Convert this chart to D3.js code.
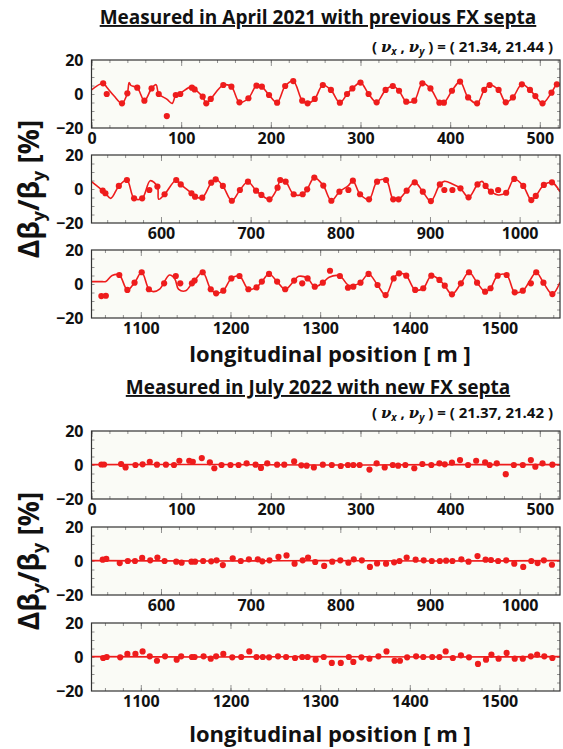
<!DOCTYPE html>
<html>
<head>
<meta charset="utf-8">
<script src="https://cdn.jsdelivr.net/npm/d3@7"></script>
<style>
body { margin: 0; background: #fff; }
text { font-family: "Open Sans", "Noto Sans", sans-serif; font-weight: bold; fill: #111; }
</style>
</head>
<body>
<script>
// titles and tunes
var titles = ["Measured in April 2021 with previous FX septa", "Measured in July 2022 with new FX septa"];
var tunes = [["21.34", "21.44"], ["21.37", "21.42"]];

// each row shows one third of the ring
var sections = [[0, 522.5], [522.5, 1045], [1045, 1567.5]];
var xTickLabels = [[0, 100, 200, 300, 400, 500], [600, 700, 800, 900, 1000], [1100, 1200, 1300, 1400, 1500]];
var yTickLabels = [-20, 0, 20];

// April 2021 measured points [s (m), dBeta/Beta (%)]
var april1Dots = [[13,6.3],[17,0],[34,-5.5],[40,0.4],[51,3.7],[59,-3.9],[67,3.3],[75,0],[84,-13],[94,-0.6],[99,0],[112,3.7],[115,2.7],[124,-1.6],[128,-5.5],[133,-2.9],[147,5.3],[156,4.3],[165,-4.9],[175,-2.5],[184,4.9],[190,4.3],[198,-0.6],[207,-5.1],[216,4.7],[225,7.6],[235,-3.9],[241,-5.5],[249,-2.9],[258,5.3],[267,2.4],[277,-5.1],[285,0],[291,3.3],[300,6.7],[309,0],[318,-4.9],[328,2.4],[336,4.7],[343,1.9],[351,-4.5],[360,-3.9],[369,6.3],[378,3.3],[388,-5.1],[393,-5.1],[402,1.9],[411,7.3],[420,-2],[430,-5.5],[438,2.4],[444,5.3],[454,2.4],[462,-4.9],[470,-2],[480,5.7],[489,2.4],[495,-1.2],[503,-5.5],[513,0.8],[519,5.7]];
var april2Dots = [[535,-1],[538,-2.5],[553,1.8],[562,5.3],[570,-5.5],[579,-5.5],[587,-0.6],[596,1.4],[604,-3.1],[617,5.3],[622,2.7],[634,-2.5],[638,-4.5],[646,-5.1],[656,3.7],[661,5.7],[669,1.8],[679,-6.9],[688,-0.6],[697,4.3],[706,-1],[712,-3.5],[721,-6.1],[730,0.8],[733,5.3],[739,4.3],[748,-3.1],[758,-3.1],[763,-0.2],[771,6.7],[781,2],[790,-6.9],[799,-1.6],[809,-0.6],[814,4.9],[822,-3.1],[832,-6.1],[841,4.3],[851,5.3],[859,-6.1],[865,-6.1],[874,-1],[883,3.9],[892,-1.6],[901,-7.1],[911,2.7],[916,-0.6],[925,-0.6],[934,0.4],[943,-4.9],[953,2.7],[962,1.8],[968,-1.6],[976,-0.6],[985,-2.2],[994,5.9],[1004,1.8],[1013,-6.5],[1018,-4.1],[1027,2.4],[1036,3.9]];
var april3Dots = [[1056,-7.1],[1061,-6.9],[1076,5.3],[1085,-3.5],[1093,0.8],[1101,6.9],[1109,-3.1],[1126,0.4],[1139,4.7],[1144,0.4],[1157,0.4],[1160,2],[1169,6.9],[1178,-3.1],[1184,-5.5],[1192,-3.9],[1201,3.3],[1210,4.7],[1220,-3.1],[1229,-2],[1235,1.4],[1243,5.9],[1252,1.4],[1261,-3.1],[1271,2],[1280,0.4],[1286,3.3],[1294,-1.6],[1303,0.8],[1311,7.8],[1322,4.7],[1331,-2.2],[1337,-1.6],[1345,0.8],[1354,5.9],[1364,-0.6],[1373,-6.5],[1382,3.3],[1388,6.3],[1396,4.9],[1406,-3.5],[1415,-2.5],[1424,4.9],[1433,2.4],[1439,-1],[1447,-6.1],[1457,0.4],[1466,6.9],[1475,0.8],[1484,-4.5],[1490,-2.5],[1498,4.9],[1508,5.3],[1517,-4.9],[1526,-3.9],[1535,0.4],[1541,6.9],[1549,0.8],[1559,-5.9]];

// April 2021 model curve, read at its turning points
var april1Model = [[0,2.4],[13,6.3],[17,4],[25,-1],[34,-5.5],[40,0.4],[42,6.7],[44,5],[51,3.7],[59,-3.9],[67,3.3],[72,5.5],[75,0],[84,-3],[90,-5.5],[94,-0.6],[99,0.5],[112,4.5],[115,3],[124,-1.6],[128,-5.5],[133,-2.9],[147,5.3],[156,4.3],[165,-4.9],[175,-2.5],[184,4.9],[190,4.3],[198,-0.6],[207,-5.1],[216,4.7],[225,7.6],[235,-3.9],[241,-5.5],[249,-2.9],[258,5.3],[267,2.4],[277,-5.1],[285,0],[291,3.3],[300,6.7],[309,0],[318,-4.9],[328,2.4],[336,4.7],[343,1.9],[351,-4.5],[360,-3.9],[369,6.3],[378,3.3],[388,-5.1],[393,-5.1],[402,1.9],[411,7.3],[420,-2],[430,-5.5],[438,2.4],[444,5.3],[454,2.4],[462,-4.9],[470,-2],[480,5.7],[489,2.4],[495,-1.2],[503,-5.5],[513,0.8],[519,5.7],[522.5,5.5]];
var april2Model = [[522.5,4.3],[535,-1],[538,-2.5],[544,-5.5],[553,1.8],[562,5.3],[570,-5.5],[579,-5.5],[588,4.9],[596,1.4],[597.5,-6],[604,-3.1],[617,5.3],[622,2.7],[634,-2.5],[638,-4.5],[646,-5.1],[656,3.7],[661,5.7],[669,1.8],[679,-6.9],[688,-0.6],[697,4.3],[706,-1],[712,-3.5],[721,-6.1],[730,0.8],[733,5.3],[739,4.3],[748,-3.1],[758,-3.1],[763,-0.2],[771,6.7],[781,2],[790,-6.9],[799,-1.6],[809,2],[814,4.9],[822,-3.1],[832,-6.1],[841,4.3],[851,5.3],[859,-6.1],[865,-6.1],[874,-1],[883,3.9],[892,-1.6],[901,-7.1],[911,2.7],[916,4.5],[925,3],[934,0.4],[943,-4.9],[953,2.7],[958,4.5],[962,1.8],[968,-1.6],[976,-3.5],[985,-2.2],[994,5.9],[1004,1.8],[1013,-6.5],[1018,-4.1],[1027,2.4],[1036,3.9],[1045,-1.6]];
var april3Model = [[1045,1.4],[1057,1.4],[1061,1.5],[1068,5],[1076,5.3],[1085,-3.5],[1093,0.8],[1101,6.9],[1109,-3.1],[1114,-4.5],[1121,-3],[1132,5.3],[1138,3],[1142,-3],[1150,-4],[1157,0.4],[1160,2],[1169,6.9],[1178,-3.1],[1184,-5.5],[1192,-3.9],[1201,3.3],[1210,4.7],[1220,-3.1],[1229,-2],[1235,1.4],[1243,5.9],[1252,1.4],[1261,-3.1],[1271,2],[1276,4.5],[1286,3.3],[1294,-1.6],[1303,0.8],[1310,4],[1322,4.7],[1331,-0.5],[1337,-0.8],[1345,0.8],[1354,5.9],[1364,-0.6],[1373,-6.5],[1382,3.3],[1388,6.3],[1396,4.9],[1406,-3.5],[1415,-2.5],[1424,4.9],[1433,2.4],[1439,-1],[1447,-6.1],[1457,0.4],[1466,6.9],[1475,0.8],[1484,-4.5],[1490,-2.5],[1498,4.9],[1508,5.3],[1517,-4.9],[1526,-3.9],[1535,3],[1541,6.9],[1549,0.8],[1559,-5.9],[1567.5,1]];

// July 2022 measured points
var july1Dots = [[11,0.3],[14,0.3],[33,0.6],[38,-1.4],[49,0],[57,0.4],[65,1.9],[73,0.2],[83,0.2],[92,0],[98,2.5],[109,2.5],[113,1.9],[123,4.1],[132,1.6],[137,-1.9],[145,0],[155,0],[164,0],[173,1],[183,0.2],[189,-1.7],[196,1],[207,0.2],[215,0.2],[226,2.1],[234,-0.2],[240,-0.4],[248,-1.4],[258,0.2],[268,0],[278,-0.6],[286,0],[292,0],[299,0],[310,-2.7],[318,1],[327,-1.4],[336,0],[342,-0.4],[350,0],[360,-1.9],[369,0.6],[379,0],[388,1],[394,0.4],[402,1.4],[411,2.9],[420,0],[429,2.5],[439,1.6],[444,0],[452,1],[462,-5.4],[471,0],[481,0],[490,2.9],[495,-1],[503,1],[514,0.2]];
var july2Dots = [[535,0.8],[539,1.2],[554,-1.2],[563,0],[571,0],[579,1.8],[588,0.4],[596,2],[604,0],[617,-0.4],[623,-1],[634,-0.4],[638,-0.4],[647,0],[656,-0.2],[662,0.4],[669,-2.4],[680,1.6],[689,0],[698,1],[708,1],[713,-0.2],[721,0.4],[731,2.4],[740,3.3],[749,-1.6],[758,0.4],[764,2],[772,-0.6],[782,-2.9],[791,-0.4],[800,0.4],[809,-1],[815,1],[824,0.4],[833,-3.5],[841,-1.4],[851,-1.6],[860,-0.8],[866,0],[874,2],[884,0.8],[893,0.4],[902,0],[911,0],[918,0.2],[925,0],[935,1],[943,-0.4],[953,2.9],[962,0.8],[968,0.6],[976,0],[985,0.4],[994,-1.6],[1004,-3.5],[1013,0],[1020,-1.2],[1027,0.4],[1036,-2.2]];
var july3Dots = [[1058,-0.6],[1062,0],[1077,-0.2],[1085,1.8],[1094,1.8],[1102,3.3],[1110,0.4],[1118,-2.2],[1127,0.4],[1140,-1.6],[1145,0.4],[1157,0],[1160,0],[1170,0.4],[1178,-1],[1184,0.4],[1192,1.8],[1202,-0.2],[1212,0],[1221,3.3],[1229,0],[1236,0],[1243,-0.2],[1253,0.4],[1262,0],[1272,-0.6],[1280,0],[1286,0],[1295,-1.6],[1304,0],[1313,-3.5],[1323,-3.5],[1332,0],[1337,-2.9],[1346,-0.2],[1355,-1],[1365,0.4],[1374,3.3],[1383,-2.2],[1389,-2.2],[1397,-0.2],[1407,0.4],[1415,0],[1425,0],[1433,0],[1440,3.3],[1448,-0.6],[1457,1],[1466,-0.2],[1476,-4.1],[1485,-1.6],[1491,1.4],[1499,-1],[1508,2.4],[1517,-1],[1526,-1],[1535,0.4],[1542,1.4],[1550,0.4],[1559,-0.6]];

// July 2022 model curve (almost flat)
var july1Model = [[0,0.2],[130,0.3],[260,0],[390,0.2],[522.5,0.2]];
var july2Model = [[522.5,0.2],[650,0],[780,0.2],[910,0],[1045,0.2]];
var july3Model = [[1045,0.2],[1175,0],[1305,0.2],[1435,0],[1567.5,0.2]];

var groups = [
    {dots: [april1Dots, april2Dots, april3Dots], model: [april1Model, april2Model, april3Model]},
    {dots: [july1Dots, july2Dots, july3Dots], model: [july1Model, july2Model, july3Model]}
];

var width = 563, height = 749;
var left = 91.5, right = 560, panelH = 68;
var panelTops = [[60, 155, 250], [431, 527, 623]];
var red = "#ee1c1c";

var svg = d3.select("body").append("svg")
    .attr("width", width)
    .attr("height", height);

function drawPanel(top, k, dots, model, id) {
    var x = d3.scaleLinear().domain(sections[k]).range([left, right]);
    var y = d3.scaleLinear().domain([-20, 20]).range([top + panelH, top]);

    svg.append("rect")
        .attr("x", left).attr("y", top)
        .attr("width", right - left).attr("height", panelH)
        .attr("fill", "#fafbf6");

    // inner ticks on all four sides
    var minorX = d3.range(Math.ceil(sections[k][0] / 20) * 20, sections[k][1], 20);
    var majorX = minorX.filter(function(d) { return d % 100 === 0; });
    var minorY = d3.range(-15, 20, 5);

    [[d3.axisBottom, top + panelH], [d3.axisTop, top]].forEach(function(a) {
        svg.append("g").attr("transform", "translate(0," + a[1] + ")")
            .call(a[0](x).tickValues(minorX).tickSize(-3).tickFormat(""));
        svg.append("g").attr("transform", "translate(0," + a[1] + ")")
            .call(a[0](x).tickValues(majorX).tickSize(-6).tickFormat(""));
    });
    [[d3.axisLeft, left], [d3.axisRight, right]].forEach(function(a) {
        svg.append("g").attr("transform", "translate(" + a[1] + ",0)")
            .call(a[0](y).tickValues(minorY).tickSize(-3).tickFormat(""));
    });
    svg.selectAll(".domain").remove();
    svg.selectAll(".tick line").attr("stroke", "#777").attr("stroke-width", 0.8);

    // tick labels
    svg.append("g").attr("class", "lab")
        .attr("transform", "translate(0," + (top + panelH) + ")")
        .call(d3.axisBottom(x).tickValues(xTickLabels[k]).tickSize(0).tickPadding(5).tickFormat(d3.format("d")));
    svg.append("g").attr("class", "lab")
        .attr("transform", "translate(" + left + ",0)")
        .call(d3.axisLeft(y).tickValues(yTickLabels).tickSize(0).tickPadding(8).tickFormat(d3.format("d")));
    svg.selectAll(".lab .domain").remove();
    svg.selectAll(".lab text").style("font-size", "16px").attr("fill", "#111");

    svg.append("clipPath").attr("id", id)
        .append("rect").attr("x", left).attr("y", top)
        .attr("width", right - left).attr("height", panelH);

    var line = d3.line()
        .x(function(d) { return x(d[0]); })
        .y(function(d) { return y(d[1]); })
        .curve(d3.curveCatmullRom.alpha(0.5));

    svg.append("path")
        .datum(model)
        .attr("clip-path", "url(#" + id + ")")
        .attr("fill", "none")
        .attr("stroke", red)
        .attr("stroke-width", 1.6)
        .attr("d", line);

    svg.append("g").selectAll("circle")
        .data(dots)
        .enter().append("circle")
        .attr("cx", function(d) { return x(d[0]); })
        .attr("cy", function(d) { return y(d[1]); })
        .attr("r", 3.1)
        .attr("fill", red);

    // frame
    svg.append("rect")
        .attr("x", left).attr("y", top)
        .attr("width", right - left).attr("height", panelH)
        .attr("fill", "none")
        .attr("stroke", "#333")
        .attr("stroke-width", 1.2);
}

var titleY = [24, 394], tuneY = [52, 418], axisTitleY = [362, 742];

groups.forEach(function(grp, gi) {
    panelTops[gi].forEach(function(top, k) {
        drawPanel(top, k, grp.dots[k], grp.model[k], "clip" + gi + k);
    });

    svg.append("text")
        .attr("x", 318).attr("y", titleY[gi])
        .attr("text-anchor", "middle")
        .style("font-size", "19px")
        .style("text-decoration", "underline")
        .text(titles[gi]);

    var tune = svg.append("text")
        .attr("x", 553).attr("y", tuneY[gi])
        .attr("text-anchor", "end")
        .style("font-size", "15px");
    tune.append("tspan").text("( ");
    tune.append("tspan").style("font-style", "italic").style("font-family", "DejaVu Serif").text("ν");
    tune.append("tspan").style("font-style", "italic").style("font-size", "10px").attr("dy", 3).text("x");
    tune.append("tspan").attr("dy", -3).text(" , ");
    tune.append("tspan").style("font-style", "italic").style("font-family", "DejaVu Serif").text("ν");
    tune.append("tspan").style("font-style", "italic").style("font-size", "10px").attr("dy", 3).text("y");
    tune.append("tspan").attr("dy", -3).text(" ) = ( " + tunes[gi][0] + ", " + tunes[gi][1] + " )");

    var midY = (panelTops[gi][0] + panelTops[gi][2] + panelH) / 2;
    var ylab = svg.append("text")
        .attr("transform", "translate(39," + midY + ") rotate(-90)")
        .attr("text-anchor", "middle")
        .style("font-size", "28px");
    ylab.append("tspan").text("Δβ");
    ylab.append("tspan").style("font-size", "18px").attr("dy", 6).text("y");
    ylab.append("tspan").attr("dy", -6).text("/β");
    ylab.append("tspan").style("font-size", "18px").attr("dy", 6).text("y");
    ylab.append("tspan").attr("dy", -6).text(" [%]");

    svg.append("text")
        .attr("x", 330).attr("y", axisTitleY[gi])
        .attr("text-anchor", "middle")
        .style("font-size", "22px")
        .text("longitudinal position [ m ]");
});
</script>
</body>
</html>
